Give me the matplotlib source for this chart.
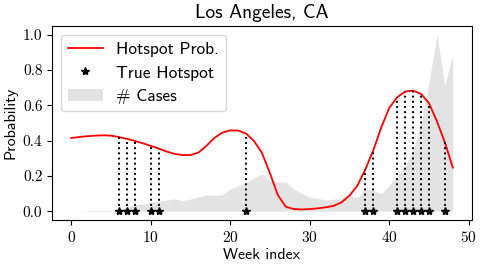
import matplotlib
matplotlib.use("Agg")
import matplotlib.pyplot as plt
import numpy as np
from matplotlib.patches import Patch
from matplotlib.lines import Line2D

plt.rcParams["font.family"] = "cmr10"
plt.rcParams["axes.formatter.use_mathtext"] = True
plt.rcParams["axes.unicode_minus"] = False

weeks = np.arange(49)

# hotspot probability per week
hotspot_prob = [
    0.415, 0.42, 0.425, 0.428, 0.43, 0.428, 0.42, 0.41, 0.398, 0.385,
    0.37, 0.355, 0.338, 0.325, 0.318, 0.318, 0.332, 0.37, 0.415, 0.445,
    0.458, 0.457, 0.44, 0.397, 0.33, 0.215, 0.09, 0.025, 0.012, 0.01,
    0.012, 0.016, 0.022, 0.03, 0.05, 0.088, 0.145, 0.237, 0.345, 0.475,
    0.585, 0.645, 0.678, 0.683, 0.665, 0.612, 0.51, 0.39, 0.247,
]

# normalised number of cases
cases = [
    0.0, 0.0, 0.002, 0.003, 0.003, 0.004, 0.006, 0.02, 0.037, 0.04,
    0.05, 0.055, 0.063, 0.07, 0.06, 0.068, 0.08, 0.092, 0.09, 0.093,
    0.125, 0.145, 0.163, 0.19, 0.21, 0.172, 0.166, 0.163, 0.125, 0.1,
    0.079, 0.073, 0.063, 0.068, 0.073, 0.092, 0.075, 0.125, 0.118, 0.1,
    0.145, 0.2, 0.26, 0.34, 0.5, 0.73, 1.0, 0.71, 0.89,
]

true_hotspots = [6, 7, 8, 10, 11, 22, 37, 38, 41, 42, 43, 44, 45, 47]

sans = "cmss10"

fig, ax = plt.subplots(figsize=(4.83, 2.67), dpi=100)
fig.subplots_adjust(left=0.108, right=0.977, top=0.903, bottom=0.176)

ax.fill_between(weeks, 0, cases, color="#e3e3e3", linewidth=0)
ax.plot(weeks, hotspot_prob, color="red", linewidth=1.3)

prob = np.array(hotspot_prob)
ax.vlines(true_hotspots, 0, prob[true_hotspots], colors="black",
          linestyles=":", linewidth=1.4)
ax.plot(true_hotspots, np.zeros(len(true_hotspots)), "*", color="black",
        markersize=6, linestyle="none")

ax.set_xlim(-2.4, 50.4)
ax.set_ylim(-0.05, 1.05)
ax.set_xticks([0, 10, 20, 30, 40, 50])
ax.set_yticks([0.0, 0.2, 0.4, 0.6, 0.8, 1.0])
ax.set_yticklabels(["0.0", "0.2", "0.4", "0.6", "0.8", "1.0"])
ax.tick_params(labelsize=11)

ax.set_title("Los Angeles, CA", fontfamily=sans, fontsize=14)
ax.set_xlabel("Week index", fontfamily=sans, fontsize=11.5, labelpad=2)
ax.set_ylabel("Probability", fontfamily=sans, fontsize=11.5)

handles = [
    Line2D([], [], color="red", linewidth=1.3),
    Line2D([], [], marker="*", color="black", linestyle="none", markersize=6),
    Patch(facecolor="#e3e3e3", edgecolor="none"),
]
labels = ["Hotspot Prob.", "True Hotspot", "# Cases"]
ax.legend(handles, labels, loc="upper left", prop={"family": sans, "size": 12.5})

fig.savefig("out.png", dpi=100)
